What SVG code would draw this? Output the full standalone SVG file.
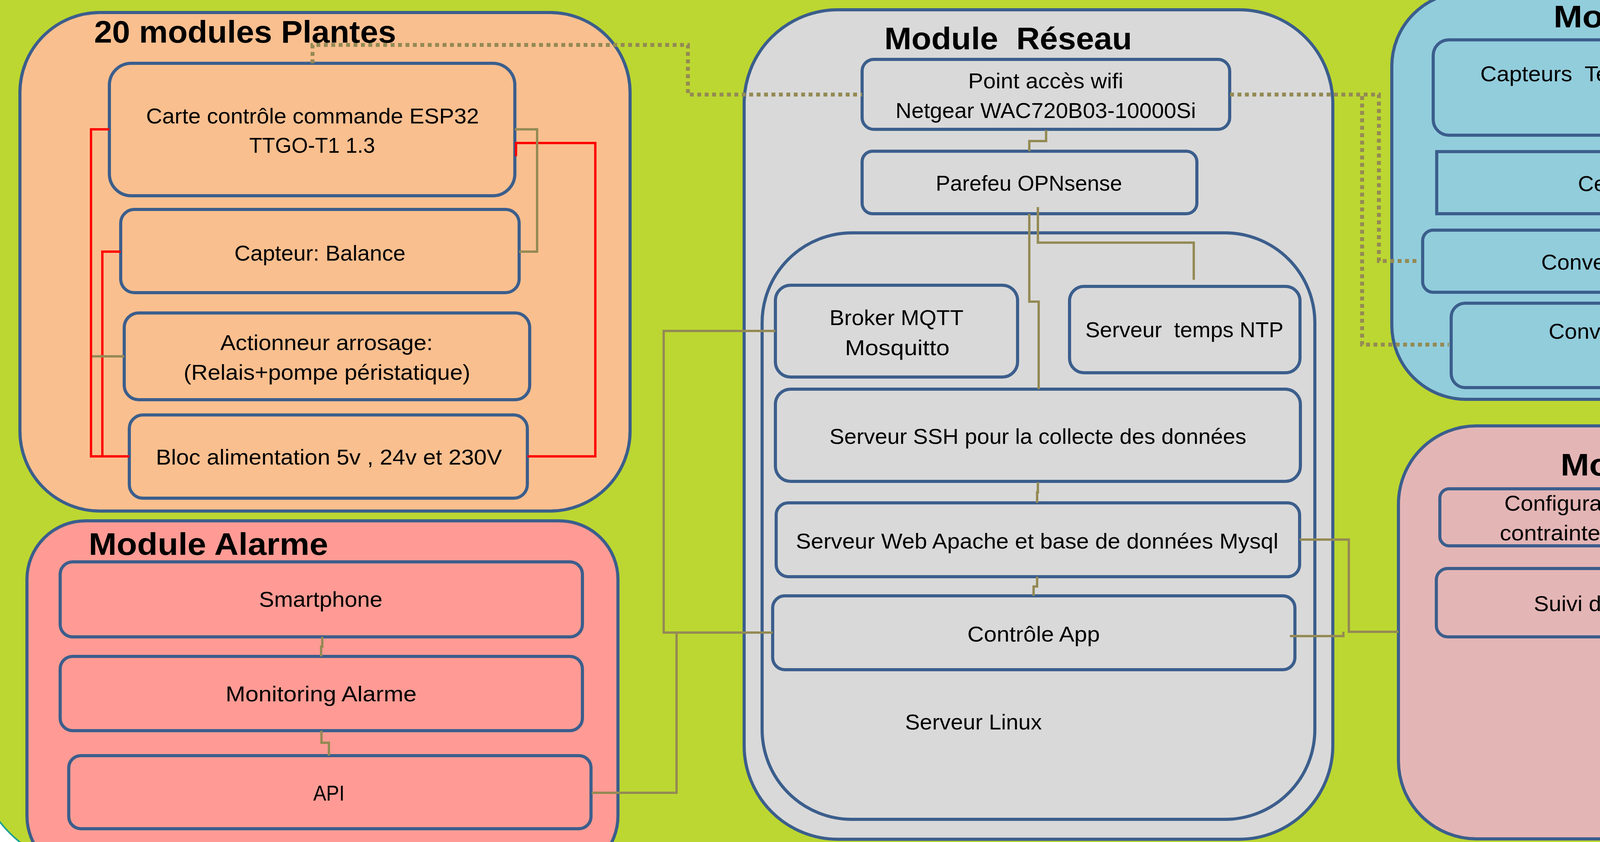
<svg xmlns="http://www.w3.org/2000/svg" width="5084" height="2155" viewBox="0 0 5084 2155">
<style>
.box{stroke:#3B5E8C;stroke-width:8}
.t{font-family:"Liberation Sans",Arial,sans-serif;font-size:56px;fill:#000;text-anchor:middle}
.h{font-family:"Liberation Sans",Arial,sans-serif;font-size:80px;font-weight:bold;fill:#000}
.ol{fill:none;stroke:#948A54;stroke-width:6}
.red{fill:none;stroke:#FF0000;stroke-width:6}
.dot{fill:none;stroke:#948A54;stroke-width:10;stroke-dasharray:10 9}
.pl{fill:#FABF8F}
.gr{fill:#D9D9D9}
.bl{fill:#92CDDC}
.pk{fill:#E4B5B5}
.sa{fill:#FF9B94}
</style>
<rect width="5084" height="2155" fill="#FFFFFF"/>
<rect x="-63" y="-300" width="5226" height="2520" rx="300" fill="#BCD731" stroke="#16A095" stroke-width="4"/>

<g id="module-plantes">
<rect class="box pl" x="51" y="32" width="1562" height="1276" rx="205"/>
<text class="h" x="241" y="109" textLength="773" lengthAdjust="spacingAndGlyphs">20 modules Plantes</text>
<g id="esp32">
<rect class="box pl" x="280" y="162" width="1038" height="339" rx="56"/>
<text class="t" x="800" y="316" textLength="852" lengthAdjust="spacingAndGlyphs">Carte contrôle commande ESP32</text>
<text class="t" x="799" y="391" textLength="322" lengthAdjust="spacingAndGlyphs">TTGO-T1 1.3</text>
</g>
<g id="balance">
<rect class="box pl" x="309" y="536" width="1020" height="213" rx="35"/>
<text class="t" x="819" y="667" textLength="438" lengthAdjust="spacingAndGlyphs">Capteur: Balance</text>
</g>
<g id="arrosage">
<rect class="box pl" x="318" y="801" width="1038" height="222" rx="37"/>
<text class="t" x="836" y="896" textLength="544" lengthAdjust="spacingAndGlyphs">Actionneur arrosage:</text>
<text class="t" x="837" y="972" textLength="734" lengthAdjust="spacingAndGlyphs">(Relais+pompe péristatique)</text>
</g>
<g id="alimentation">
<rect class="box pl" x="331" y="1062" width="1019" height="213" rx="35"/>
<text class="t" x="842" y="1189" textLength="886" lengthAdjust="spacingAndGlyphs">Bloc alimentation 5v , 24v et 230V</text>
</g>
</g>

<g id="module-reseau">
<rect class="box gr" x="1905" y="25" width="1507" height="2123" rx="240"/>
<text class="h" x="2264" y="126" textLength="634" lengthAdjust="spacingAndGlyphs" xml:space="preserve">Module  Réseau</text>
<g id="wifi">
<rect class="box gr" x="2207" y="152" width="941" height="179" rx="30"/>
<text class="t" x="2677" y="226" textLength="397" lengthAdjust="spacingAndGlyphs">Point accès wifi</text>
<text class="t" x="2677" y="302" textLength="769" lengthAdjust="spacingAndGlyphs">Netgear WAC720B03-10000Si</text>
</g>
<g id="parefeu">
<rect class="box gr" x="2207" y="387" width="857" height="160" rx="27"/>
<text class="t" x="2634" y="488" textLength="477" lengthAdjust="spacingAndGlyphs">Parefeu OPNsense</text>
</g>
<g id="serveur-linux">
<rect class="box gr" x="1951" y="596" width="1415" height="1501" rx="230"/>
<text class="t" x="2492" y="1867" textLength="350" lengthAdjust="spacingAndGlyphs">Serveur Linux</text>
<g id="mqtt">
<rect class="box gr" x="1985" y="730" width="620" height="235" rx="39"/>
<text class="t" x="2295" y="832" textLength="343" lengthAdjust="spacingAndGlyphs">Broker MQTT</text>
<text class="t" x="2297" y="909" textLength="268" lengthAdjust="spacingAndGlyphs">Mosquitto</text>
</g>
<g id="ntp">
<rect class="box gr" x="2738" y="733" width="590" height="221" rx="37"/>
<text class="t" x="3032" y="863" textLength="507" lengthAdjust="spacingAndGlyphs" xml:space="preserve">Serveur  temps NTP</text>
</g>
<g id="ssh">
<rect class="box gr" x="1985" y="996" width="1344" height="236" rx="39"/>
<text class="t" x="2657" y="1136" textLength="1067" lengthAdjust="spacingAndGlyphs">Serveur SSH pour la collecte des données</text>
</g>
<g id="web">
<rect class="box gr" x="1987" y="1287" width="1340" height="189" rx="31"/>
<text class="t" x="2655" y="1404" textLength="1235" lengthAdjust="spacingAndGlyphs">Serveur Web Apache et base de données Mysql</text>
</g>
<g id="controle">
<rect class="box gr" x="1978" y="1525" width="1337" height="189" rx="31"/>
<text class="t" x="2646" y="1642" textLength="339" lengthAdjust="spacingAndGlyphs">Contrôle App</text>
</g>
</g>
</g>

<g id="module-meteo">
<rect class="box bl" x="3563" y="-20" width="1477" height="1042" rx="190"/>
<text class="h" x="3977" y="70" textLength="591" lengthAdjust="spacingAndGlyphs">Module Météo</text>
<g id="capteurs">
<rect class="box bl" x="3669" y="102" width="1302" height="244" rx="40"/>
<text class="t" x="4320" y="208" textLength="1061" lengthAdjust="spacingAndGlyphs" xml:space="preserve">Capteurs  Températures, Rayonnements,</text>
<text class="t" x="4321" y="284" textLength="264" lengthAdjust="spacingAndGlyphs">Humidités</text>
</g>
<g id="centrale">
<rect class="box bl" x="3678" y="388" width="1285" height="159"/>
<text class="t" x="4320" y="489" textLength="561" lengthAdjust="spacingAndGlyphs">Centrale Campbell Sci</text>
</g>
<g id="rs232">
<rect class="box bl" x="3642" y="589" width="1358" height="159" rx="27"/>
<text class="t" x="4320" y="690" textLength="749" lengthAdjust="spacingAndGlyphs">Convertisseur RS232 &lt;-&gt; Wifi</text>
</g>
<g id="raspberry">
<rect class="box bl" x="3715" y="776" width="1194" height="216" rx="36"/>
<text class="t" x="4312" y="867" textLength="695" lengthAdjust="spacingAndGlyphs">Convertisseur Raspberry Pi</text>
<text class="t" x="4312" y="944" textLength="438" lengthAdjust="spacingAndGlyphs">(Campbell2mqtt)</text>
</g>
</g>

<g id="module-ihm">
<rect class="box pk" x="3580" y="1090" width="1469" height="1057" rx="200"/>
<text class="h" x="3995" y="1217" textLength="494" lengthAdjust="spacingAndGlyphs">Module IHM</text>
<g id="configuration">
<rect class="box pk" x="3686" y="1251" width="1288" height="146" rx="24"/>
<text class="t" x="4330" y="1307" textLength="958" lengthAdjust="spacingAndGlyphs">Configuration des seuils, scénarios et</text>
<text class="t" x="4330" y="1383" textLength="981" lengthAdjust="spacingAndGlyphs">contraintes de l’expérience à distance</text>
</g>
<g id="suivi">
<rect class="box pk" x="3677" y="1455" width="1309" height="175" rx="29"/>
<text class="t" x="4330" y="1564" textLength="807" lengthAdjust="spacingAndGlyphs">Suivi de l’expérience à distance</text>
</g>
</g>

<g id="module-alarme">
<rect class="box sa" x="69" y="1333" width="1513" height="905" rx="150"/>
<text class="h" x="227" y="1420" textLength="613" lengthAdjust="spacingAndGlyphs">Module Alarme</text>
<g id="smartphone">
<rect class="box sa" x="154" y="1438" width="1337" height="192" rx="32"/>
<text class="t" x="821" y="1553" textLength="316" lengthAdjust="spacingAndGlyphs">Smartphone</text>
</g>
<g id="monitoring">
<rect class="box sa" x="154" y="1680" width="1337" height="190" rx="32"/>
<text class="t" x="822" y="1795" textLength="489" lengthAdjust="spacingAndGlyphs">Monitoring Alarme</text>
</g>
<g id="api">
<rect class="box sa" x="176" y="1934" width="1337" height="187" rx="31"/>
<text class="t" x="842" y="2049" textLength="80" lengthAdjust="spacingAndGlyphs">API</text>
</g>
</g>

<g id="connectors">
<path class="red" d="M280,331 H233 V1168 H331"/>
<path class="red" d="M309,644 H262 V1168"/>
<path class="red" d="M1350,1168 H1524 V366 H1321 V400"/>
<path class="ol" d="M1318,331 H1375 V644 H1329"/>
<path class="ol" d="M318,912 H236"/>
<path class="dot" d="M800,162 V115 H1761 V242 H2207"/>
<path class="dot" d="M3149,242 H3530 V668 H3629"/>
<path class="dot" d="M3149,242 H3487 V882 H3709"/>
<path class="ol" d="M2678,333 V361 H2635 V387"/>
<path class="ol" d="M2657,530 V621 H3056 V716"/>
<path class="ol" d="M2635,547 V772 H2659 V996"/>
<path class="ol" d="M2657,1234 V1260 H2655 V1287"/>
<path class="ol" d="M2655,1476 V1501 H2646 V1525"/>
<path class="ol" d="M3327,1381 H3453 V1617 H3580"/>
<path class="ol" d="M3302,1628 H3439 V1617"/>
<path class="ol" d="M1985,847 H1699 V1619 H1978"/>
<path class="ol" d="M1515,2029 H1732 V1619"/>
<path class="ol" d="M4320,346 V388"/>
<path class="ol" d="M4320,547 V589"/>
<path class="ol" d="M825,1630 V1655 H822 V1680"/>
<path class="ol" d="M823,1870 V1901 H842 V1934"/>
</g>
</svg>
